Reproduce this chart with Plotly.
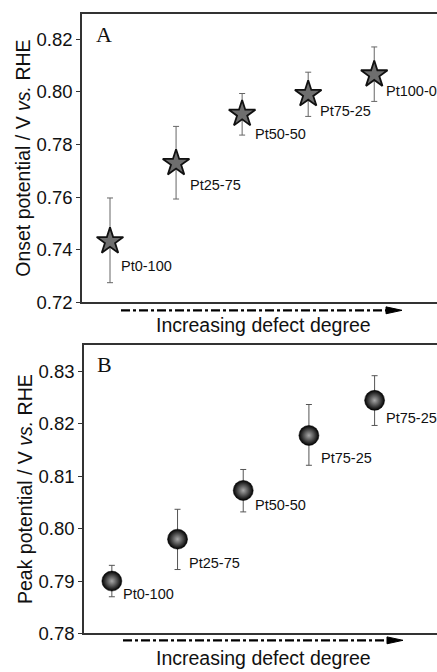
import plotly.graph_objects as go

# ---------------- data ----------------
categories = [1, 2, 3, 4, 5]
labels_a = ["Pt0-100", "Pt25-75", "Pt50-50", "Pt75-25", "Pt100-0"]
onset = [0.7432, 0.7729, 0.7916, 0.7991, 0.8066]
onset_err_plus = [0.0165, 0.0140, 0.0078, 0.0084, 0.0105]
onset_err_minus = [0.0157, 0.0136, 0.0080, 0.0084, 0.0102]

labels_b = ["Pt0-100", "Pt25-75", "Pt50-50", "Pt75-25", "Pt75-25"]
peak = [0.7900, 0.7980, 0.8073, 0.8178, 0.8245]
peak_err_plus = [0.0030, 0.0057, 0.0040, 0.0059, 0.0047]
peak_err_minus = [0.0030, 0.0058, 0.0041, 0.0057, 0.0048]

ticks_a = [0.72, 0.74, 0.76, 0.78, 0.80, 0.82]
ticks_b = [0.78, 0.79, 0.80, 0.81, 0.82, 0.83]

# ---------------- styling / layout helpers ----------------
W, H = 437, 672
def px(x):
    return x / W
def py(y):
    return 1 - y / H

FONT = "Liberation Sans, Arial, sans-serif"
AX = "#333333"

# label offsets (pixels) relative to the marker
off_a = [(9, -25), (12, -22), (11, -20), (10, -17), (10, -16)]
off_b = [(9, -13), (9, -24), (10, -15), (10, -23), (9, -18)]

fig = go.Figure()

fig.add_trace(go.Scatter(
    x=categories, y=onset, mode="markers", xaxis="x", yaxis="y",
    marker=dict(symbol="star", size=20, color="#6e6e6e",
                line=dict(color="#111111", width=1.8)),
    error_y=dict(type="data", symmetric=False, array=onset_err_plus,
                 arrayminus=onset_err_minus, color="#666666",
                 thickness=1, width=3),
    showlegend=False, hoverinfo="skip"))

fig.add_trace(go.Scatter(
    x=categories, y=peak, mode="markers", xaxis="x2", yaxis="y2",
    marker=dict(symbol="circle", size=20, color="#000000",
                gradient=dict(type="radial", color="#a8a8a8"),
                line=dict(color="#000000", width=0.5)),
    error_y=dict(type="data", symmetric=False, array=peak_err_plus,
                 arrayminus=peak_err_minus, color="#555555",
                 thickness=1, width=3),
    showlegend=False, hoverinfo="skip"))

annotations = []
for c, v, t, (dx, dy) in zip(categories, onset, labels_a, off_a):
    annotations.append(dict(x=c, y=v, xref="x", yref="y", text=t, showarrow=False,
                            xanchor="left", yanchor="middle", xshift=dx, yshift=dy,
                            font=dict(family=FONT, size=14.5, color="#111111")))
for c, v, t, (dx, dy) in zip(categories, peak, labels_b, off_b):
    annotations.append(dict(x=c, y=v, xref="x2", yref="y2", text=t, showarrow=False,
                            xanchor="left", yanchor="middle", xshift=dx, yshift=dy,
                            font=dict(family=FONT, size=14.5, color="#111111")))

# panel letters
annotations.append(dict(x=px(94), y=py(35), xref="paper", yref="paper", text="A",
                        showarrow=False, xanchor="left", yanchor="middle",
                        font=dict(family="Liberation Serif, Times New Roman, serif", size=22, color="#111111")))
annotations.append(dict(x=px(95), y=py(370), xref="paper", yref="paper", text="B",
                        showarrow=False, xanchor="left", yanchor="middle",
                        font=dict(family="Liberation Serif, Times New Roman, serif", size=22, color="#111111")))

# "Increasing defect degree" captions
for yc, ys in ((330, 0), (662, -6)):
    annotations.append(dict(x=px(263), y=py(yc), xref="paper", yref="paper",
                            text="Increasing defect degree", showarrow=False,
                            xanchor="center", yanchor="middle", yshift=ys,
                            font=dict(family=FONT, size=19.5, color="#111111")))

shapes = []
for (x0, x1, yy) in ((121, 388, 315), (123, 389, 650)):
    shapes.append(dict(type="line", xref="paper", yref="paper",
                       x0=px(x0), x1=px(x1), y0=py(yy), y1=py(yy),
                       line=dict(color="#000000", width=2.2, dash="dashdot")))
    tip = x1 + 14
    shapes.append(dict(type="path", xref="paper", yref="paper",
                       path=f"M {px(x1-2)} {py(yy-3.5)} L {px(tip)} {py(yy)} L {px(x1-2)} {py(yy+3.5)} Z",
                       fillcolor="#000000", line=dict(color="#000000", width=1)))

common_x = dict(range=[0.576, 5.95], showticklabels=False, ticks="", showgrid=False,
                zeroline=False, showline=True, linecolor=AX, linewidth=1.5, mirror=True)
common_y = dict(showgrid=False, zeroline=False, showline=True, linecolor=AX, linewidth=1.5,
                ticks="outside", ticklen=4, tickwidth=1, tickcolor=AX,
                tickfont=dict(family=FONT, size=18.5, color="#111111"),
                title_font=dict(family=FONT, size=19.5, color="#111111"),
                title_standoff=1)

fig.update_layout(
    width=W, height=H,
    margin=dict(l=0, r=0, t=0, b=0),
    paper_bgcolor="white", plot_bgcolor="white",
    xaxis=dict(domain=[px(82), 1], anchor="y", **common_x),
    yaxis=dict(domain=[py(307), py(14)], anchor="x", range=[0.72, 0.8297],
               tickvals=ticks_a, ticktext=[f"{t:.2f}" for t in ticks_a],
               title_text="Onset potential / V <i>vs.</i> RHE", **common_y),
    xaxis2=dict(domain=[px(84), 1], anchor="y2", **common_x),
    yaxis2=dict(domain=[py(643), py(350)], anchor="x2", range=[0.78, 0.8351],
                tickvals=ticks_b, ticktext=[f"{t:.2f}" for t in ticks_b],
                title_text="Peak potential / V <i>vs.</i> RHE", **common_y),
    annotations=annotations,
    shapes=shapes,
)

fig.write_html("out.html")
